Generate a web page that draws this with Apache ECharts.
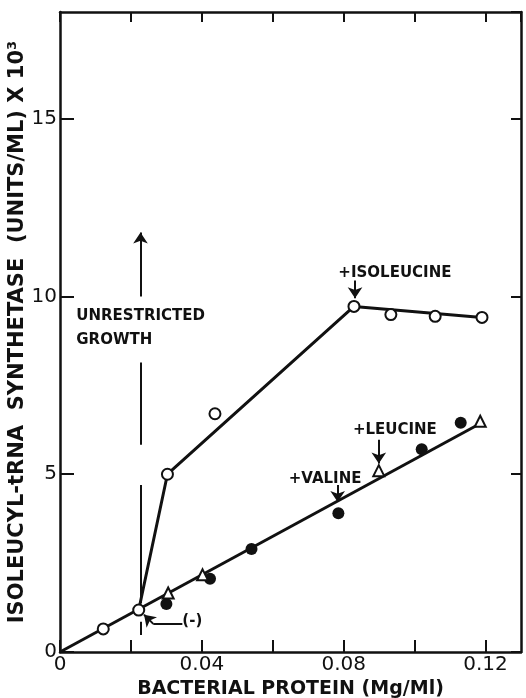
<!DOCTYPE html>
<html>
<head>
<meta charset="utf-8">
<script src="https://cdn.jsdelivr.net/npm/echarts@6/dist/echarts.min.js"></script>
<style>
  html, body { margin: 0; padding: 0; background: #fff; }
  #main { width: 526px; height: 698px; }
</style>
</head>
<body>
<div id="main"></div>
<script>
  // values
  var xLabelTicks = [0, 0.04, 0.08, 0.12];
  var openCircles = [[0.0122, 0.65], [0.0222, 1.18], [0.0303, 5.0], [0.0437, 6.7],
                     [0.0829, 9.72], [0.0933, 9.49], [0.1058, 9.44], [0.119, 9.41]];
  var filledCircles = [[0.030, 1.35], [0.0423, 2.06], [0.054, 2.9], [0.0785, 3.9],
                       [0.102, 5.7], [0.113, 6.45]];
  var triangles = [[0.0305, 1.66], [0.0402, 2.17], [0.0899, 5.1], [0.1185, 6.49]];
  var upperLine = [[0.0222, 1.18], [0.0303, 5.0], [0.0829, 9.72], [0.119, 9.41]];
  var lowerLine = [[0, 0], [0.118, 6.4]];
  var notes = [
    { name: '+ISOLEUCINE', value: [0.0785, 10.65] },
    { name: '+LEUCINE', value: [0.0826, 6.25] },
    { name: '+VALINE', value: [0.0645, 4.85] },
    { name: '(-)', value: [0.0345, 0.86] },
    { name: 'UNRESTRICTED', value: [0.0046, 9.45] },
    { name: 'GROWTH', value: [0.0046, 8.78] }
  ];
  var growthX = 0.0227;

  var myChart = echarts.init(document.getElementById('main'));
  var ink = '#111';
  var fnt = 'DejaVu Sans';

  function seg(a, b, arrow) {
    return [{ coord: a, symbol: 'none' }, { coord: b, symbol: arrow ? 'arrow' : 'none' }];
  }

  var option = {
    animation: false,
    backgroundColor: '#fff',
    grid: { left: 60, right: 5, top: 12, bottom: 46, containLabel: false, outerBoundsMode: 'none' },
    xAxis: [{
      type: 'value', min: 0, max: 0.13, interval: 0.02,
      name: 'BACTERIAL PROTEIN (Mg/Ml)', nameLocation: 'middle', nameGap: 28,
      nameTextStyle: { color: ink, fontFamily: fnt, fontWeight: 'bold', fontSize: 19 },
      axisLine: { show: true, onZero: false, lineStyle: { color: ink, width: 2.5 } },
      axisTick: { show: true, inside: true, length: 12, lineStyle: { color: ink, width: 2 } },
      splitLine: { show: false },
      axisLabel: {
        color: ink, fontFamily: fnt, fontSize: 20, margin: 3, showMaxLabel: false,
        formatter: function (v) {
          for (var i = 0; i < xLabelTicks.length; i++) {
            if (Math.abs(v - xLabelTicks[i]) < 1e-6) return v === 0 ? '0' : String(xLabelTicks[i]);
          }
          return '';
        }
      }
    }, {
      type: 'value', position: 'top', min: 0, max: 0.13, interval: 0.02,
      axisLine: { show: true, onZero: false, lineStyle: { color: ink, width: 2.5 } },
      axisTick: { show: true, inside: true, length: 10, lineStyle: { color: ink, width: 2 } },
      axisLabel: { show: false }, splitLine: { show: false }
    }],
    yAxis: [{
      type: 'value', min: 0, max: 18, interval: 5,
      name: 'ISOLEUCYL-tRNA  SYNTHETASE  (UNITS/ML) X 10\u00b3', nameLocation: 'middle',
      nameGap: 32, nameMoveOverlap: false,
      nameTextStyle: { color: ink, fontFamily: fnt, fontWeight: 'bold', fontSize: 21 },
      axisLine: { show: true, onZero: false, lineStyle: { color: ink, width: 2.5 } },
      axisTick: { show: true, inside: true, length: 14, lineStyle: { color: ink, width: 2 } },
      splitLine: { show: false },
      axisLabel: { color: ink, fontFamily: fnt, fontSize: 20, margin: 3, showMaxLabel: false }
    }, {
      type: 'value', position: 'right', min: 0, max: 18, interval: 5,
      axisLine: { show: true, onZero: false, lineStyle: { color: ink, width: 2.5 } },
      axisTick: { show: true, inside: true, length: 10, lineStyle: { color: ink, width: 2 } },
      axisLabel: { show: false }, splitLine: { show: false }
    }],
    series: [
      {
        type: 'line', data: upperLine, symbol: 'none', z: 2,
        lineStyle: { color: ink, width: 3 }
      },
      {
        type: 'line', data: lowerLine, symbol: 'none', z: 2,
        lineStyle: { color: ink, width: 3 },
        markLine: {
          silent: true, symbol: ['none', 'arrow'], symbolSize: 11, label: { show: false },
          lineStyle: { color: ink, width: 2, type: 'solid' },
          data: [
            seg([growthX, 10.0], [growthX, 11.8], true),
            seg([growthX, 8.14], [growthX, 5.83], false),
            seg([growthX, 4.7], [growthX, 1.38], false),
            seg([growthX, 0.85], [growthX, 0.48], false),
            seg([0.0832, 10.45], [0.0832, 9.95], true),
            seg([0.0899, 5.97], [0.0899, 5.3], true),
            seg([0.0783, 4.7], [0.0783, 4.22], true),
            seg([0.0345, 0.79], [0.0263, 0.79], false),
            seg([0.0263, 0.79], [0.0237, 1.05], true)
          ]
        }
      },
      {
        type: 'scatter', data: openCircles, symbol: 'circle', symbolSize: 11, z: 5,
        itemStyle: { color: '#fff', borderColor: ink, borderWidth: 2, opacity: 1 }
      },
      {
        type: 'scatter', data: filledCircles, symbol: 'circle', symbolSize: 12, z: 5,
        itemStyle: { color: ink, opacity: 1 }
      },
      {
        type: 'scatter', data: triangles, symbol: 'triangle', symbolSize: 11, z: 5,
        itemStyle: { color: '#fff', borderColor: ink, borderWidth: 2, opacity: 1 }
      },
      {
        type: 'scatter', data: notes, symbolSize: 0, z: 6, silent: true,
        itemStyle: { opacity: 1 },
        label: {
          show: true, position: 'right', distance: 0, formatter: '{b}',
          color: ink, fontFamily: fnt, fontWeight: 'bold', fontSize: 15
        }
      }
    ]
  };
  myChart.setOption(option, true);
</script>
</body>
</html>
